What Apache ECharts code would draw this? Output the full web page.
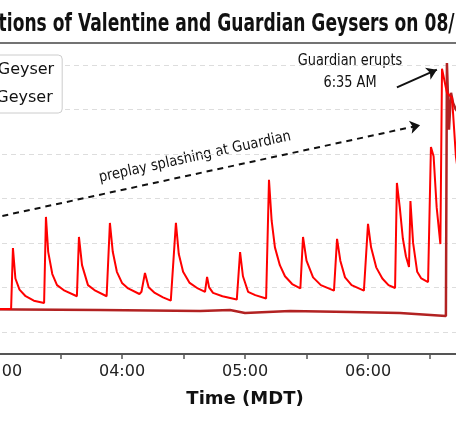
<!DOCTYPE html>
<html><head><meta charset="utf-8">
<script src="https://cdn.jsdelivr.net/npm/echarts@6/dist/echarts.min.js"></script>
<style>html,body{margin:0;padding:0;overflow:hidden;width:456px;height:426px;background:#fff}
#c{position:absolute;left:-200px;top:0;width:820px;height:426px}</style>
</head><body><div id="c"></div>
<script>
// [minutes after midnight (MDT), relative level]
const valentine = [[150,2.03],[185.9,2.03],[186.8,4.77],[188,3.4],[190,2.9],[193,2.6],[197,2.4],[202,2.3],
 [202.9,6.17],[204,4.6],[206,3.6],[208.3,3.1],[212,2.85],[218,2.6],
 [219.0,5.27],[220.5,4.0],[223.4,3.1],[227,2.85],[232.5,2.6],
 [234.1,5.9],[235.5,4.6],[237.5,3.7],[240,3.2],[243,2.95],[248.5,2.7],
 [249.5,2.8],[251.2,3.65],[253,3.0],[256,2.75],[260,2.55],[263.8,2.4],
 [266.3,5.9],[267.7,4.5],[269.8,3.7],[273,3.2],[277,2.95],[280.5,2.8],
 [281.5,3.47],[282.5,3.0],[284.4,2.75],[289,2.6],[296,2.45],
 [297.6,4.59],[299,3.5],[301.5,2.8],[305,2.65],[310.3,2.5],
 [311.7,7.84],[313,6.0],[314.6,4.8],[317,4.0],[319.5,3.5],[323,3.15],[327,2.95],
 [328.3,5.27],[330,4.2],[333.2,3.45],[337,3.1],[343.4,2.85],
 [344.9,5.18],[346.5,4.2],[348.8,3.45],[352,3.1],[358,2.85],
 [360.0,5.86],[361.5,4.8],[364,3.9],[367,3.4],[370,3.1],[373.2,2.97],
 [374.1,7.7],[375.5,6.6],[377,5.2],[378.5,4.4],[380,3.92],
 [380.7,6.89],[382,5.0],[384,3.7],[386,3.4],[389.3,3.24],
 [390.7,9.32],[392,8.9],[393.5,6.6],[395.3,4.95],
 [396.1,12.84],[398.5,11.76],[401,11.53],[402.9,8.87],[405.8,6.94],[412,4.7]];
const guardian = [[150,2.03],[229.3,1.98],[278.1,1.94],[292.7,1.98],[300,1.85],[322,1.94],[351.2,1.89],[375.6,1.85],
 [398.0,1.71],[398.5,13.1],[399.5,10.1],[400.5,11.76],[401.5,11.3],[402.9,11.0],[409.7,10.1]];
const seriesNames = ['Valentine Geyser','Guardian Geyser'];
const titleText = 'Eruptions of Valentine and Guardian Geysers on 08/12/2023';
const F = "'DejaVu Sans',sans-serif";
const ch = echarts.init(document.getElementById('c'), null, {width:820,height:426});
ch.setOption({
  animation:false,
  legend:{orient:'vertical',left:74,top:55,itemGap:12,itemWidth:28,itemHeight:3,
    textStyle:{fontFamily:F,fontSize:16,color:'#111'},
    borderColor:'#ccc',borderWidth:1,borderRadius:4,padding:[7,8,7,10],backgroundColor:'#fff'},
  grid:{left:76,right:6,top:43,bottom:72,outerBoundsMode:'none',containLabel:false},
  xAxis:{type:'value',min:120,max:480,interval:30,name:'Time (MDT)',nameLocation:'middle',nameGap:36,
    nameTextStyle:{fontFamily:F,fontSize:18,fontWeight:'bold',color:'#111'},
    axisLine:{lineStyle:{color:'#555',width:2}},axisTick:{length:5,lineStyle:{color:'#555',width:1.5}},
    axisLabel:{fontFamily:F,fontSize:16,color:'#222',margin:10,formatter:v=>v%60?'':String(Math.floor(v/60)).padStart(2,'0')+':00'},
    splitLine:{show:false}},
  yAxis:{type:'value',min:0,max:14,interval:1,axisLabel:{show:false},axisLine:{show:false},axisTick:{show:false},
    splitLine:{lineStyle:{color:['transparent','#ddd'],type:[5,4],width:1}}},
  graphic:[
    {type:'line',shape:{x1:0,y1:43,x2:820,y2:43},style:{stroke:'#444',lineWidth:1.5}},
    {type:'text',x:154,y:24,scaleX:0.685,style:{text:titleText,fontFamily:F,fontSize:25,fontWeight:'bold',fill:'#111',align:'left',verticalAlign:'middle'}},
    {type:'text',x:200+350,y:72,scaleX:0.86,style:{text:'Guardian erupts\n6:35 AM',fontFamily:F,fontSize:15,fill:'#111',align:'center',verticalAlign:'middle',lineHeight:22}},
    {type:'text',x:200+195,y:157,rotation:0.215,scaleX:0.87,style:{text:'preplay splashing at Guardian',fontFamily:F,fontSize:15,fill:'#111',align:'center',verticalAlign:'middle'}}
  ],
  series:[
    {name:seriesNames[0],type:'line',data:valentine,showSymbol:false,lineStyle:{color:'#ff0000',width:2},itemStyle:{color:'#ff0000'},z:3,
     markLine:{silent:true,symbol:['none','arrow'],symbolSize:10,label:{show:false},
       data:[[{coord:[374.1,12.0],lineStyle:{type:'solid',color:'#111',width:2}},{coord:[393.6,12.8]}],
             [{coord:[165.9,5.9],lineStyle:{type:[6,5],color:'#111',width:2}},{coord:[385.4,10.3]}]]}},
    {name:seriesNames[1],type:'line',data:guardian,showSymbol:false,lineStyle:{color:'#b22222',width:2.5},itemStyle:{color:'#b22222'},z:2}
  ]
});
</script></body></html>
